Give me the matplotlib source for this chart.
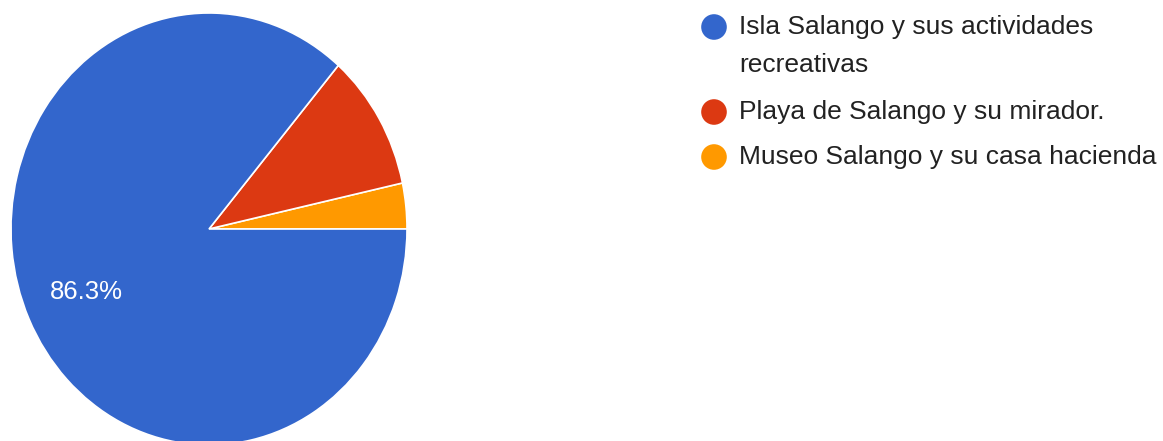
import matplotlib
matplotlib.use("Agg")
import matplotlib.pyplot as plt

# survey answers (n = 117)
labels = ["Isla Salango y sus actividades\nrecreativas",
          "Playa de Salango y su mirador.",
          "Museo Salango y su casa hacienda"]
counts = [101, 12, 4]
colors = ["#3366CC", "#DC3912", "#FF9900"]

W, H = 1163, 441
fig = plt.figure(figsize=(W / 100, H / 100), dpi=100)

# pie is slightly stretched vertically in the reference
ax = fig.add_axes([11 / W, (H - 445) / H, 396 / W, 432 / H])
# draw counter-clockwise from 3 o'clock: orange, red, blue
order = [2, 1, 0]
wedges, texts = ax.pie([counts[i] for i in order],
                       colors=[colors[i] for i in order],
                       startangle=0, counterclock=True, radius=1,
                       wedgeprops=dict(edgecolor="white", linewidth=1.2))
ax.set_aspect("auto")
ax.set_xlim(-1, 1)
ax.set_ylim(-1, 1)

total = sum(counts)
pct = counts[0] / total * 100
ax.text(-0.62, -0.29, "%.1f%%" % pct, color="white", fontsize=18.5,
        family="Liberation Sans", ha="center", va="center")

# legend drawn in pixel coords
lax = fig.add_axes([0, 0, 1, 1])
lax.set_xlim(0, W)
lax.set_ylim(H, 0)
lax.axis("off")
ys = [27, 112, 157]
for lab, col, y in zip(labels, colors, ys):
    lax.scatter([714], [y], s=340, color=col, edgecolors="none")
    lines = lab.split("\n")
    for k, line in enumerate(lines):
        lax.text(739, y + k * 38, line, fontsize=19, color="#222222",
                 family="Liberation Sans", va="center", ha="left")

fig.savefig("out.png", dpi=100)
